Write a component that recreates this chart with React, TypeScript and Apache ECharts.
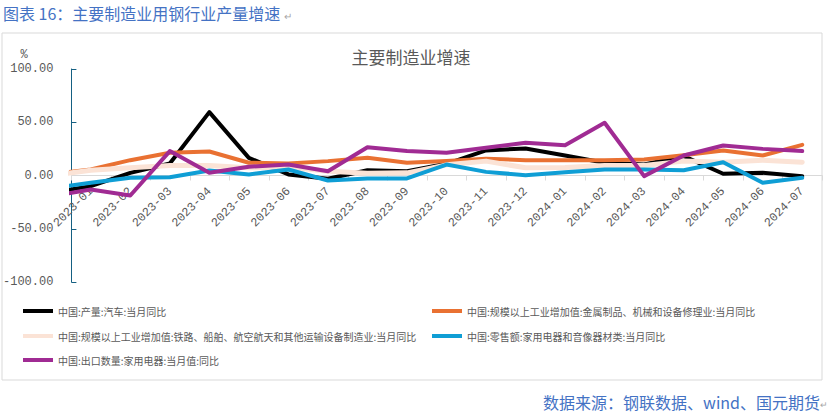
import React, { useEffect, useRef } from "react";
import * as echarts from "echarts";

const categories = [
  "2023-01", "2023-02", "2023-03", "2023-04", "2023-05", "2023-06", "2023-07",
  "2023-08", "2023-09", "2023-10", "2023-11", "2023-12", "2024-01", "2024-02",
  "2024-03", "2024-04", "2024-05", "2024-06", "2024-07",
];

const seriesNames = [
  "中国:产量:汽车:当月同比",
  "中国:规模以上工业增加值:金属制品、机械和设备修理业:当月同比",
  "中国:规模以上工业增加值:铁路、船舶、航空航天和其他运输设备制造业:当月同比",
  "中国:零售额:家用电器和音像器材类:当月同比",
  "中国:出口数量:家用电器:当月值:同比",
];

// 2022-12 values (the line enters the plot from the left edge toward them)
const priorMonth = [-16, 1.4, 0, -11.9, -19.4];

const autoOutput = [-10, 2.5, 11.3, 59.5, 16.6, 1, -3, 5, 4, 11, 23.5, 25.4, 18.8, 11.9, 10.3, 18.2, 1.6, 2.5, -0.6];
const metalMachinery = [5.6, 14.4, 21.3, 22.5, 12, 11.3, 13.5, 16.6, 12, 13.5, 15.7, 14.4, 14.4, 14.4, 15, 19, 23.5, 18.8, 28.8];
const transportEquip = [5, 7.2, 9.4, 9.4, 7.2, 8, 4, 2, 2.5, 10, 13.5, 7.2, 7.5, 9.4, 9.4, 13.5, 12.5, 14.4, 12.5];
const applianceRetail = [-6.9, -2.2, -1.6, 4.7, 1, 5.6, -4.7, -2.8, -2.8, 10.3, 3.4, 0.3, 3.1, 5.6, 5.6, 5, 12.5, -6.9, -2.2];
const applianceExport = [-13.2, -18.8, 22.9, 2.5, 8.2, 10.3, 4, 26.6, 22.9, 21.3, 26, 30.7, 28.5, 49.5, -0.6, 18.8, 28.2, 25, 22.9];

const yTicks = [-100, -50, 0, 50, 100];

const colors = ["#000000", "#E97132", "#FBE3D6", "#0F9ED5", "#A02B93"];
const lineWidths = [4, 4, 5, 4, 4];

const legendPos = [
  { left: 23, top: 306 },
  { left: 432, top: 306 },
  { left: 23, top: 331 },
  { left: 432, top: 331 },
  { left: 23, top: 355 },
];

const CJK = '"Noto Sans CJK SC", "Noto Sans", sans-serif';

const GRID_TOP = 69;
const GRID_BOTTOM = 131;
const CHART_H = 413;

export default function App() {
  const ref = useRef<HTMLDivElement>(null);

  useEffect(() => {
    if (!ref.current) return;
    const chart = echarts.init(ref.current, null, { renderer: "svg" });
    const allData = [autoOutput, metalMachinery, transportEquip, applianceRetail, applianceExport];

    const series = allData.map((vals, si) => ({
      name: seriesNames[si],
      type: "line",
      xAxisIndex: 1,
      yAxisIndex: 1,
      symbol: "none",
      clip: true,
      color: colors[si],
      lineStyle: { color: colors[si], width: lineWidths[si], cap: "round", join: "round" },
      data: [[-1, priorMonth[si]], ...vals.map((v, i) => [i, v])],
      z: 2 + si,
    }));

    const legends = seriesNames.map((n, i) => ({
      data: [n],
      left: legendPos[i].left,
      top: legendPos[i].top,
      padding: 0,
      icon: "rect",
      itemWidth: 30,
      itemHeight: 4,
      itemGap: 5,
      selectedMode: false,
      textStyle: { fontSize: 10, color: "#595959", fontFamily: CJK },
    }));

    const gridRect = { left: 71, right: 8, top: GRID_TOP, bottom: GRID_BOTTOM, containLabel: false };
    const yMin = yTicks[0];
    const yMax = yTicks[yTicks.length - 1];
    const plotH = CHART_H - GRID_TOP - GRID_BOTTOM;
    // distance from grid bottom up to the zero line
    const zeroOffset = (plotH * (0 - yMin)) / (yMax - yMin);

    chart.setOption({
      animation: false,
      backgroundColor: "#ffffff",
      grid: [gridRect, gridRect],
      legend: legends,
      xAxis: [
        {
          type: "category",
          gridIndex: 0,
          position: "bottom",
          offset: -zeroOffset,
          data: categories,
          boundaryGap: true,
          axisLine: { show: true, onZero: false, lineStyle: { color: "#D9D9D9", width: 1 } },
          axisTick: { show: true, length: 5, interval: 0, lineStyle: { color: "#D9D9D9" } },
          axisLabel: {
            interval: 0,
            rotate: 45,
            margin: 14,
            color: "#595959",
            fontSize: 12,
            fontFamily: '"Liberation Mono", monospace',
          },
          splitLine: { show: false },
          z: 1,
        },
        {
          type: "value",
          gridIndex: 1,
          min: -0.5,
          max: categories.length - 0.5,
          show: false,
          splitLine: { show: false },
        },
      ],
      yAxis: [
        {
          type: "value",
          gridIndex: 0,
          min: yMin,
          max: yMax,
          interval: 50,
          axisLine: { show: true, lineStyle: { color: "#156082", width: 1 } },
          axisTick: { show: true, inside: true, length: 5, lineStyle: { color: "#156082" } },
          axisLabel: {
            margin: 18,
            color: "#595959",
            fontSize: 12,
            fontFamily: '"Liberation Mono", monospace',
            formatter: (v: number) => v.toFixed(2),
          },
          splitLine: { show: false },
        },
        {
          type: "value",
          gridIndex: 1,
          min: yMin,
          max: yMax,
          interval: 50,
          show: false,
          splitLine: { show: false },
        },
      ],
      series,
      graphic: [
        {
          type: "rect",
          shape: { x: 2, y: 33, width: 820, height: 347 },
          style: { fill: "none", stroke: "#D9D9D9", lineWidth: 1 },
          silent: true,
          z: -10,
        },
        {
          type: "text",
          x: 3,
          y: 13,
          style: {
            text: "图表 16：主要制造业用钢行业产量增速",
            fill: "#4472C4",
            font: `16px ${CJK}`,
            textAlign: "left",
            textVerticalAlign: "middle",
          },
        },
        {
          type: "text",
          x: 284,
          y: 15,
          style: { text: "↵", fill: "#A6A6A6", font: `10px ${CJK}`, textAlign: "left", textVerticalAlign: "middle" },
        },
        {
          type: "text",
          x: 411,
          y: 56,
          style: {
            text: "主要制造业增速",
            fill: "#595959",
            font: `17px ${CJK}`,
            textAlign: "center",
            textVerticalAlign: "middle",
          },
        },
        {
          type: "text",
          x: 24,
          y: 55,
          style: { text: "%", fill: "#595959", font: `12px "Liberation Mono", monospace`, textAlign: "center", textVerticalAlign: "middle" },
        },
        {
          type: "text",
          x: 820,
          y: 402,
          style: {
            text: "数据来源：钢联数据、wind、国元期货",
            fill: "#4472C4",
            font: `16px ${CJK}`,
            lineHeight: 16,
            textAlign: "right",
            textVerticalAlign: "middle",
          },
        },
        {
          type: "text",
          x: 820,
          y: 404,
          style: { text: "↵", fill: "#A6A6A6", font: `9px ${CJK}`, textAlign: "left", textVerticalAlign: "middle" },
        },
      ],
    });

    return () => chart.dispose();
  }, []);

  return (
    <div
      ref={ref}
      style={{ position: "fixed", left: 0, top: 0, width: 830, height: 413, background: "#fff" }}
    />
  );
}
